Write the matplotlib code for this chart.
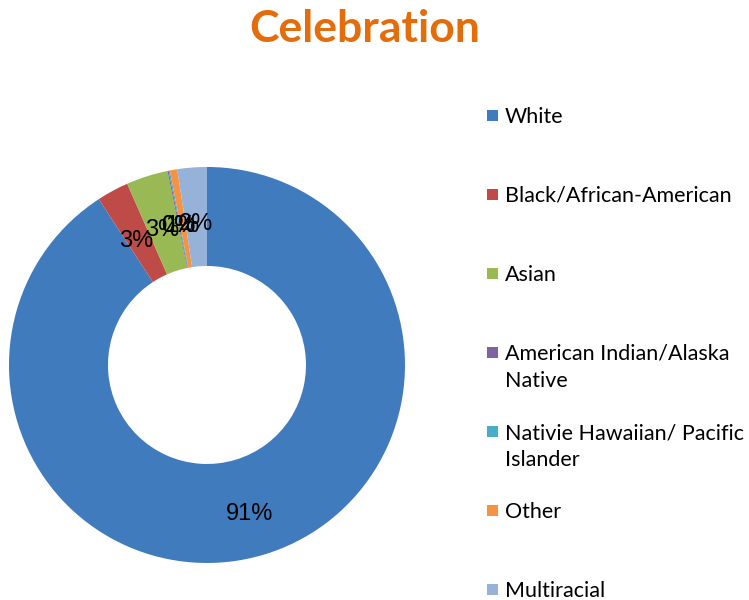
import matplotlib
matplotlib.use('Agg')
import matplotlib.pyplot as plt
from matplotlib.patches import Rectangle

# data
groups = ['White', 'Black/African-American', 'Asian',
          'American Indian/Alaska\nNative', 'Nativie Hawaiian/ Pacific\nIslander',
          'Other', 'Multiracial']
shares = [90.8, 2.6, 3.4, 0.1, 0.1, 0.6, 2.4]
colors = ['#407BBD', '#BE4B48', '#98B954', '#7F62A0', '#4AACC6', '#F59342', '#97B2D8']

fig = plt.figure(figsize=(7.49, 6), dpi=100)

# donut
ax = fig.add_axes([0.012, 0.0617, 0.5287, 0.66])
wedges, texts, autotexts = ax.pie(shares, colors=colors, startangle=90, counterclock=False,
                                  autopct='%.0f%%', pctdistance=0.75,
                                  wedgeprops=dict(width=0.5, linewidth=0),
                                  textprops=dict(fontsize=17, family='Liberation Sans', color='black'))
# excel puts the labels a bit lower than the ring middle
for t in autotexts:
    x, y = t.get_position()
    t.set_position((x, y - 0.035))
ax.set_xlim(-1, 1)
ax.set_ylim(-1, 1)
ax.set_aspect('equal')
ax.axis('off')

# title
fig.text(0.487, 0.952, 'Celebration', ha='center', va='center', fontsize=32,
         fontweight='bold', color='#E46C0A', family='Lato')

# legend drawn by hand so the markers line up with the first line of text
y0 = 116
step = 79
for i, (g, c) in enumerate(zip(groups, colors)):
    yc = y0 + i * step
    fig.patches.append(Rectangle((487 / 749, 1 - (yc + 5) / 600), 11 / 749, 11 / 600,
                                 transform=fig.transFigure, facecolor=c, edgecolor='none'))
    for j, line in enumerate(g.split('\n')):
        fig.text(505 / 749, 1 - (yc + 7 + 27 * j) / 600, line, ha='left', va='baseline',
                 fontsize=15.5, family='Lato', color='black')

fig.savefig('out.png', dpi=100)
